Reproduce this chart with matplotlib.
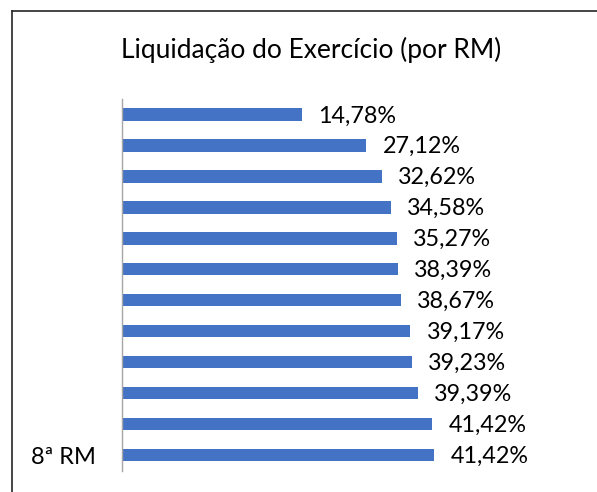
import matplotlib
matplotlib.use("Agg")
import matplotlib.pyplot as plt
from matplotlib.lines import Line2D

# Data (top to bottom)
categories = ["", "", "", "", "", "", "", "", "", "", "", "8ª RM"]
label_texts = ["14,78%", "27,12%", "32,62%", "34,58%", "35,27%", "38,39%",
               "38,67%", "39,17%", "39,23%", "39,39%", "41,42%", "41,42%"]
# bar lengths (units on the drawn axis)
bar_values = [23.86, 32.39, 34.48, 35.67, 36.47, 36.60,
              37.00, 38.24, 38.46, 39.26, 41.20, 41.42]
title = "Liquidação do Exercício (por RM)"

W, H = 597, 492
fig = plt.figure(figsize=(W / 100, H / 100), dpi=100)
fig.patch.set_facecolor("white")

ax = fig.add_axes([122 / W, (H - 470.5) / H, (560 - 122) / W, (470.5 - 99) / H])
y = list(range(len(categories)))
ax.barh(y, bar_values, height=0.4, color="#4472C4")
ax.set_ylim(len(categories) - 0.5, -0.5)
ax.set_xlim(0, 58.15)
ax.set_yticks(y)
ax.set_yticklabels(categories, fontsize=17, family="Lato", color="#000000")
ax.tick_params(axis="y", length=0, pad=19)
ax.set_xticks([])
for s in ["top", "right", "bottom"]:
    ax.spines[s].set_visible(False)
ax.spines["left"].set_color("#a6a6a6")
ax.spines["left"].set_linewidth(1.0)
ax.patch.set_alpha(0)

for yi, v, t in zip(y, bar_values, label_texts):
    ax.annotate(t, xy=(v, yi), xytext=(12, -1), textcoords="offset points",
                ha="left", va="center", fontsize=16.8, family="Lato", color="#000000")

fig.text(311 / W, 1 - 50 / H, title, ha="center", va="center",
         fontsize=19, family="Lato", color="#000000")

# Outer chart border (extends beyond the image on the right and bottom)
fig.add_artist(Line2D([12 / W, 12 / W], [-0.05, 1 - 10.5 / H], transform=fig.transFigure,
                      color="#262626", linewidth=1.2))
fig.add_artist(Line2D([12 / W, 1.05], [1 - 10.5 / H, 1 - 10.5 / H], transform=fig.transFigure,
                      color="#262626", linewidth=1.2))

fig.savefig("out.png", dpi=100)
